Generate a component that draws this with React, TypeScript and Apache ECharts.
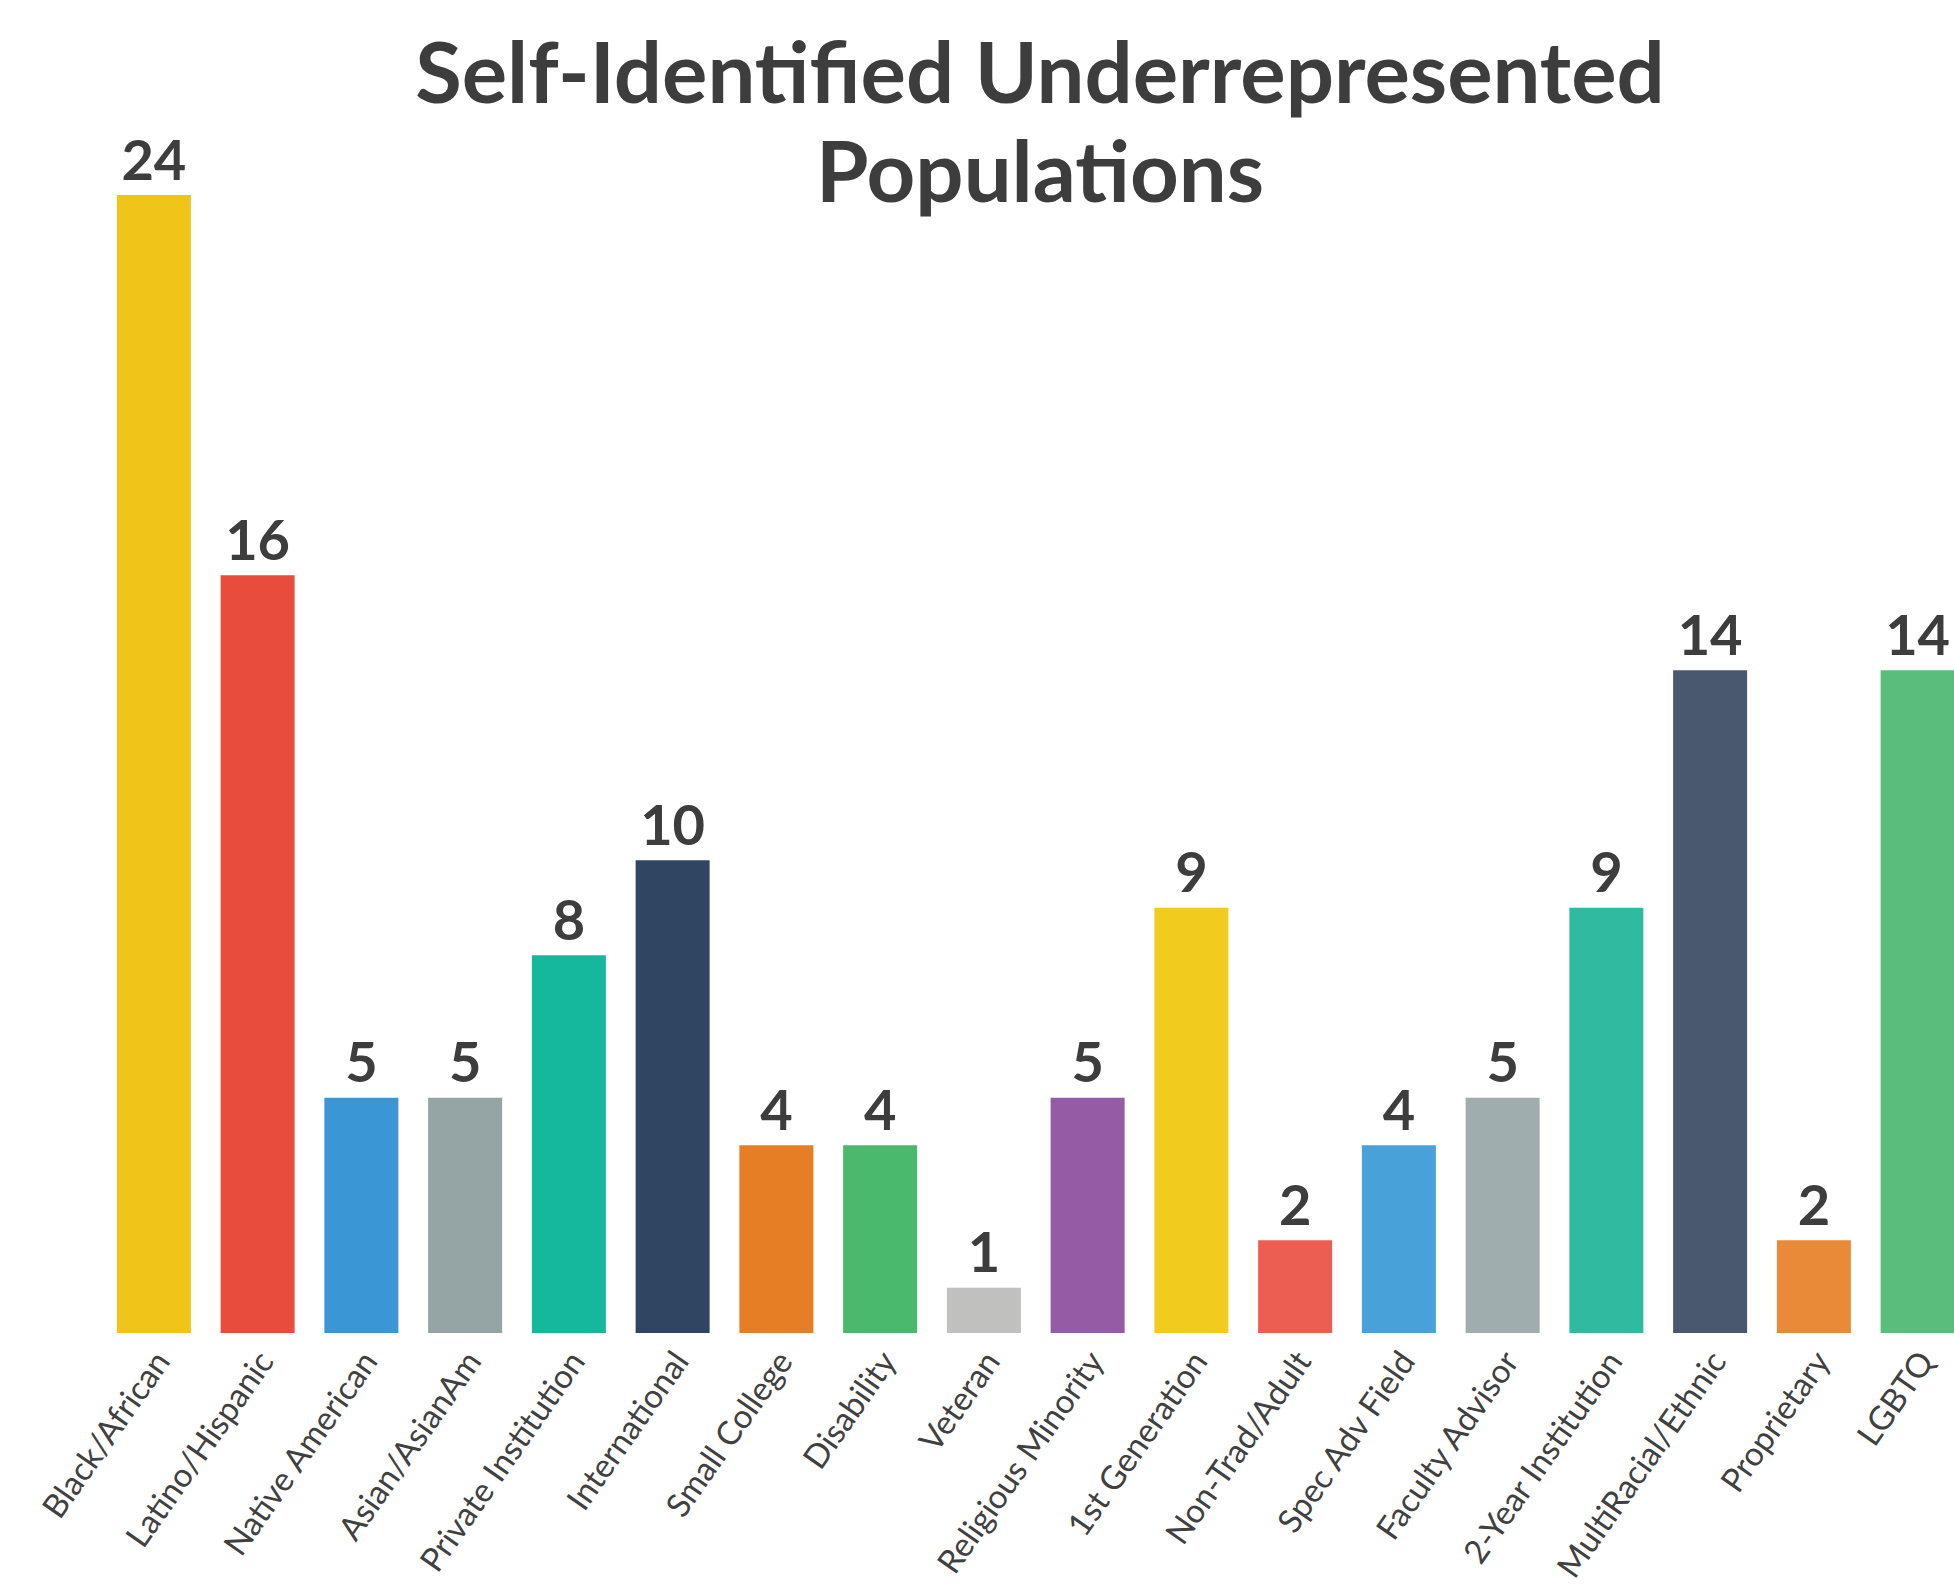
import React, { useEffect, useRef } from "react";
import * as echarts from "echarts";

const categories = [
  "Black/African",
  "Latino/Hispanic",
  "Native American",
  "Asian/AsianAm",
  "Private Institution",
  "International",
  "Small College",
  "Disability",
  "Veteran",
  "Religious Minority",
  "1st Generation",
  "Non-Trad/Adult",
  "Spec Adv Field",
  "Faculty Advisor",
  "2-Year Institution",
  "MultiRacial/Ethnic",
  "Proprietary",
  "LGBTQ",
];

const values = [24, 16, 5, 5, 8, 10, 4, 4, 1, 5, 9, 2, 4, 5, 9, 14, 2, 14];

const barColors = [
  "#F0C419",
  "#E74C3C",
  "#3A96D4",
  "#95A5A6",
  "#15B89A",
  "#304562",
  "#E67E26",
  "#4AB96D",
  "#C0C0BE",
  "#955BA5",
  "#F1CC1E",
  "#EC5E52",
  "#48A1D8",
  "#A0ADAE",
  "#2EBBA0",
  "#4A586F",
  "#E98A39",
  "#5ABD7C",
];

const titleText = "Self-Identified Underrepresented\nPopulations";

export default function App() {
  const ref = useRef<HTMLDivElement>(null);

  useEffect(() => {
    if (!ref.current) return;
    const chart = echarts.init(ref.current, undefined, { renderer: "svg" });
    chart.setOption({
      animation: false,
      backgroundColor: "#ffffff",
      title: {
        text: titleText,
        left: 1040,
        top: 20,
        padding: 0,
        textAlign: "center",
        textStyle: {
          fontFamily: "Lato",
          fontWeight: "bold",
          fontSize: 85,
          lineHeight: 99,
          color: "#3d3d3d",
        },
      },
      grid: {
        left: 102,
        right: 0.5,
        top: 195,
        bottom: 258,
        containLabel: false,
      },
      xAxis: {
        type: "category",
        data: categories,
        axisLine: { show: false },
        axisTick: { show: false },
        splitLine: { show: false },
        axisLabel: {
          interval: 0,
          rotate: 55,
          margin: 31,
          padding: [0, -12, 0, 0],
          fontFamily: "Lato",
          fontSize: 33,
          color: "#404040",
        },
      },
      yAxis: {
        type: "value",
        min: 0.05,
        max: 24,
        show: false,
        splitLine: { show: false },
      },
      series: [
        {
          type: "bar",
          barWidth: 74,
          data: values.map((v, i) => ({
            value: v,
            itemStyle: { color: barColors[i] },
          })),
          label: {
            show: true,
            position: "top",
            distance: 9,
            fontFamily: "Lato",
            fontWeight: "bold",
            fontSize: 56,
            color: "#3d3d3d",
          },
        },
      ],
    });
    return () => chart.dispose();
  }, []);

  return (
    <div
      style={{
        position: "absolute",
        left: 0,
        top: 0,
        width: 1954,
        height: 1591,
        overflow: "hidden",
        background: "#ffffff",
      }}
    >
      <div ref={ref} style={{ width: 1970, height: 1591 }} />
    </div>
  );
}
